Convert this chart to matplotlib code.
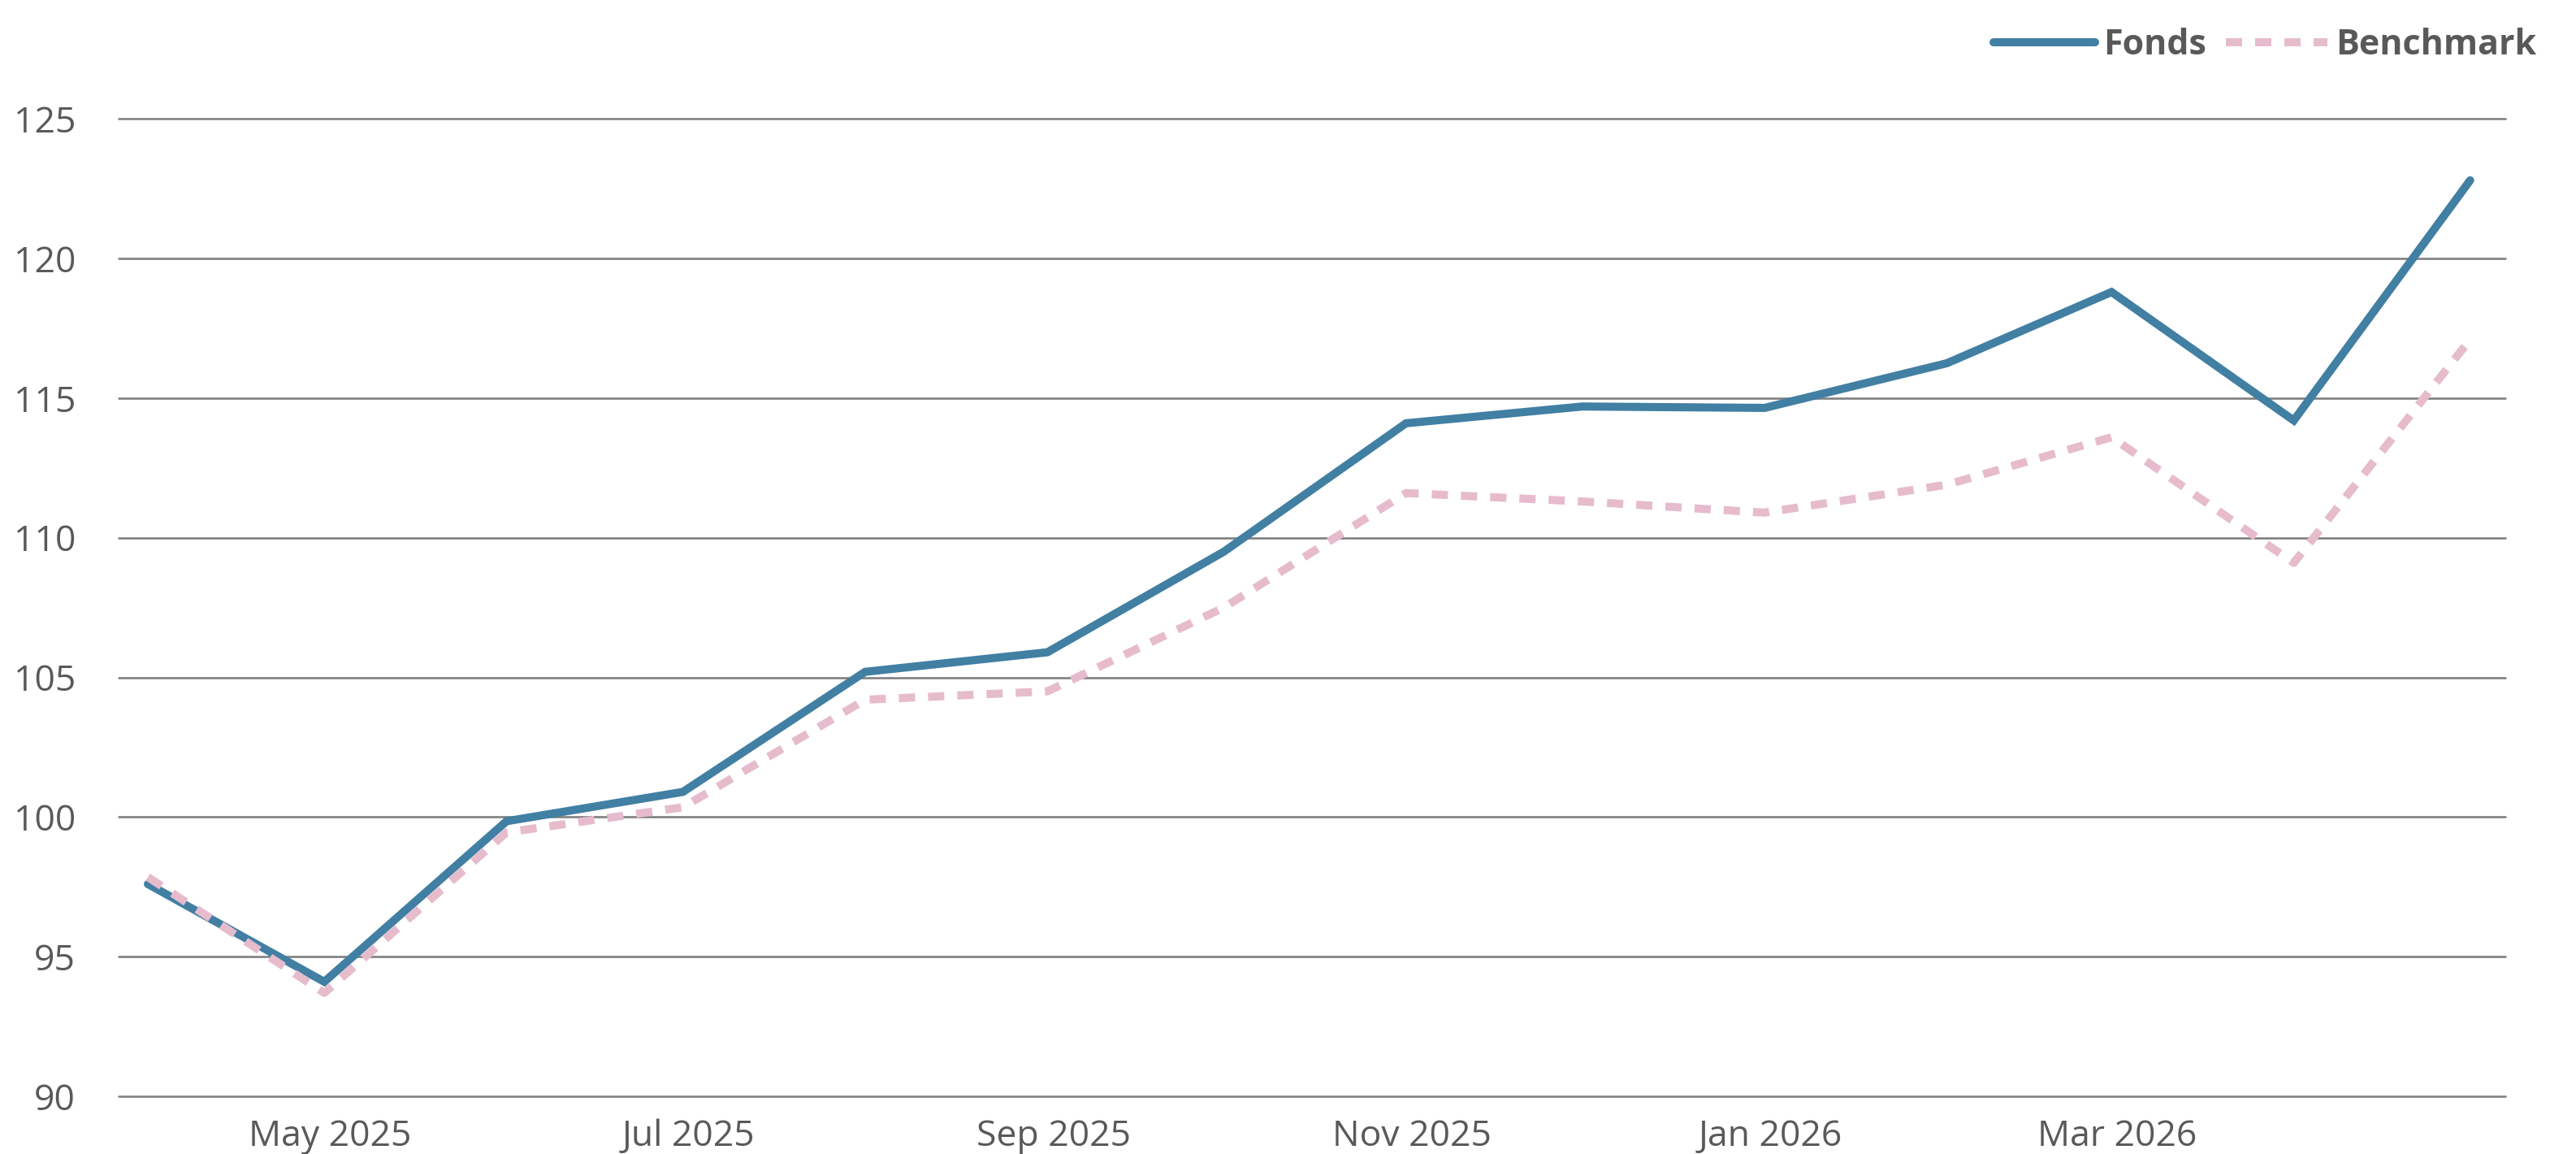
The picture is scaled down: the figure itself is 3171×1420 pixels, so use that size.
import datetime as dt
import matplotlib
matplotlib.use("Agg")
import matplotlib.pyplot as plt

# month-end values
dates = [dt.date(2025, 3, 31), dt.date(2025, 4, 30), dt.date(2025, 5, 31),
         dt.date(2025, 6, 30), dt.date(2025, 7, 31), dt.date(2025, 8, 31),
         dt.date(2025, 9, 30), dt.date(2025, 10, 31), dt.date(2025, 11, 30),
         dt.date(2025, 12, 31), dt.date(2026, 1, 31), dt.date(2026, 2, 28),
         dt.date(2026, 3, 31), dt.date(2026, 4, 30)]
fonds = [97.6, 94.1, 99.85, 100.9, 105.2, 105.9, 109.5, 114.1, 114.7, 114.65,
         116.25, 118.8, 114.2, 122.8]
benchmark = [97.85, 93.7, 99.45, 100.35, 104.2, 104.5, 107.5, 111.6, 111.3, 110.9,
             111.9, 113.6, 109.1, 117.1]
xtick_dates = [dt.date(2025, 5, 1), dt.date(2025, 7, 1), dt.date(2025, 9, 1),
               dt.date(2025, 11, 1), dt.date(2026, 1, 1), dt.date(2026, 3, 1)]
xtick_labels = ['May 2025', 'Jul 2025', 'Sep 2025', 'Nov 2025', 'Jan 2026', 'Mar 2026']
yticks = [90, 95, 100, 105, 110, 115, 120, 125]

plt.rcParams['font.family'] = ['Open Sans', 'DejaVu Sans']
txt = '#595959'

fig = plt.figure(figsize=(31.71, 14.2), dpi=100)
ax = fig.add_axes([0.046, 0.05, 0.9266, 0.847])

ax.plot(dates, fonds, color='#417FA3', lw=7.2, solid_capstyle='round',
        solid_joinstyle='miter', label='Fonds', zorder=4, clip_on=False)
ax.plot(dates, benchmark, color='#E6BCCD', lw=7.2, dashes=(2, 1.6),
        dash_capstyle='butt', label='Benchmark', zorder=5, clip_on=False)

ax.set_ylim(90, 125)
ax.set_yticks(yticks)
ax.set_xlim(dt.date(2025, 3, 26), dt.date(2026, 5, 6))
ax.set_xticks(xtick_dates)
ax.set_xticklabels(xtick_labels)

ax.grid(axis='y', color='#808080', lw=1.9, solid_capstyle='round')
for gl in ax.get_ygridlines():
    gl.set_clip_on(False)
ax.set_axisbelow(True)
for s in ax.spines.values():
    s.set_visible(False)
ax.tick_params(length=0, labelsize=32, colors=txt)
ax.tick_params(axis='y', pad=38)
ax.tick_params(axis='x', pad=20)

leg = fig.legend(loc='center right', bbox_to_anchor=(0.997, 0.961), ncol=2,
                 frameon=False, handlelength=2.9, handletextpad=0.25,
                 columnspacing=0.55, prop={'size': 31, 'weight': 'bold'})
for t in leg.get_texts():
    t.set_color(txt)

fig.savefig('out.png', dpi=100)
